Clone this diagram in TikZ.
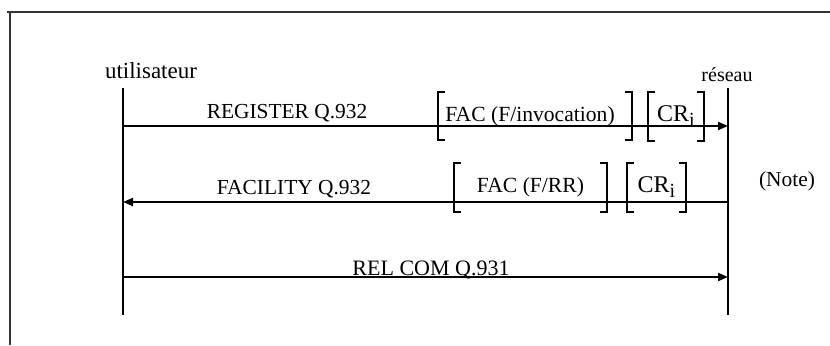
\documentclass[tikz,border=0pt]{standalone}
\usepackage{fontspec}
\setmainfont{Liberation Serif}
\usetikzlibrary{arrows.meta}
\tikzset{
  frame/.style={line width=0.6pt, draw=black!80},
  life/.style={line width=1pt},
  msg/.style={line width=1pt, -{Triangle[length=5pt,width=4pt]}},
  lbl/.style={inner sep=0pt, font=\fontsize{10.7}{12}\selectfont},
  brkbox/.style={inner sep=0pt, minimum height=24pt, font=\fontsize{10.8}{12}\selectfont},
  brk/.style={line width=1pt},
  crbox/.style={brkbox, font=\fontsize{12}{14}\selectfont}
}
\newcommand{\mybrk}[1]{%
  \draw[brk] ([xshift=3.5pt]#1.north west) -- (#1.north west) -- (#1.south west) -- ([xshift=3.5pt]#1.south west);
  \draw[brk] ([xshift=-3.5pt]#1.north east) -- (#1.north east) -- (#1.south east) -- ([xshift=-3.5pt]#1.south east);}
\newcommand{\crsub}{CR\raisebox{-0.45ex}{\fontsize{10}{12}\selectfont i}}
\begin{document}
\begin{tikzpicture}[x=0.5pt,y=-0.5pt]
\useasboundingbox (0,0) rectangle (830,345);
% frame
\coordinate (fl) at (7,12);
\coordinate (fr) at (830,12);
\coordinate (fc) at (10,12);
\coordinate (fb) at (10,345);
\draw[frame] (fl) -- (fr);
\draw[frame] (fc) -- (fb);
% actors
\node[inner sep=0pt, font=\fontsize{11.5}{13}\selectfont] (user) at (151,71) {utilisateur};
\node[inner sep=0pt, font=\fontsize{10}{12}\selectfont] (net) at (727,75) {réseau};
% lifelines
\coordinate (u0) at (123,88);
\coordinate (u9) at (123,315);
\coordinate (n0) at (728,88);
\coordinate (n9) at (728,315);
\draw[life] (u0) -- (u9);
\draw[life] (n0) -- (n9);
% message endpoints
\coordinate (u1) at (123,126);
\coordinate (n1) at (728,126);
\coordinate (u2) at (123,202);
\coordinate (n2) at (728,202);
\coordinate (u3) at (123,277);
\coordinate (n3) at (728,277);
\draw[msg] (u1) -- (n1);
\draw[msg] (n2) -- (u2);
\draw[msg] (u3) -- (n3);
% labels
\node[lbl] (m1) at (287,113) {REGISTER Q.932};
\node[lbl] (m2) at (294,189) {FACILITY Q.932};
\node[lbl, font=\fontsize{11}{12}\selectfont] (m3) at (431,270) {REL COM Q.931};
\node[lbl] (note) at (787,181) {(Note)};
% bracketed information elements
\node[brkbox, minimum width=97pt] (fac1) at (535,116) {\hspace*{-5pt}FAC (F/invocation)};
\node[crbox, minimum width=28pt] (cr1) at (676,116.5) {\crsub};
\node[brkbox, minimum width=76.5pt] (fac2) at (530.5,187.5) {FAC (F/RR)};
\node[crbox, minimum width=29.5pt] (cr2) at (656.5,187.5) {\crsub};
\mybrk{fac1}
\mybrk{cr1}
\mybrk{fac2}
\mybrk{cr2}
\end{tikzpicture}
\end{document}
